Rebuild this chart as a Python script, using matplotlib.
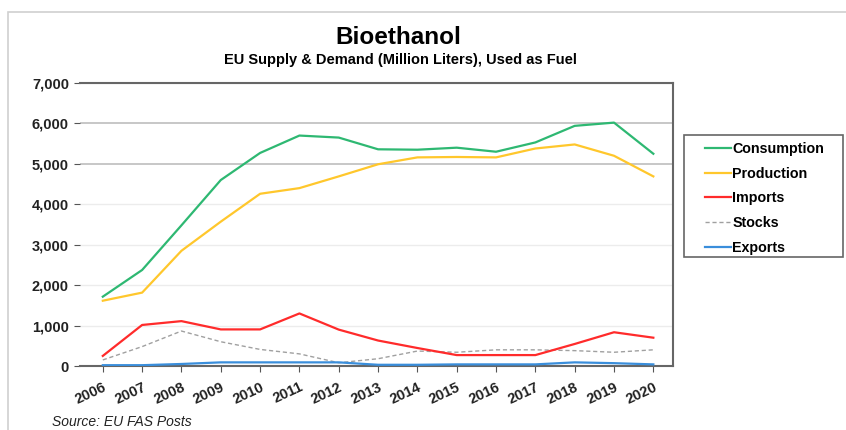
import matplotlib
matplotlib.use("Agg")
import matplotlib.pyplot as plt
from matplotlib.patches import Rectangle

plt.rcParams['font.family'] = ['Liberation Sans', 'DejaVu Sans']

years = ["2006", "2007", "2008", "2009", "2010", "2011", "2012", "2013",
         "2014", "2015", "2016", "2017", "2018", "2019", "2020"]
consumption = [1715, 2375, 3480, 4600, 5270, 5700, 5650, 5360, 5350, 5400, 5300, 5530, 5940, 6020, 5250]
production = [1615, 1815, 2850, 3570, 4260, 4400, 4690, 4990, 5160, 5170, 5160, 5380, 5480, 5200, 4690]
imports = [250, 1015, 1110, 905, 905, 1300, 900, 630, 445, 270, 270, 270, 545, 835, 700]
stocks = [150, 480, 865, 600, 410, 300, 80, 180, 370, 340, 400, 400, 380, 340, 400]
exports = [20, 20, 50, 90, 90, 90, 90, 30, 30, 40, 40, 40, 90, 70, 40]
yticks = [0, 1000, 2000, 3000, 4000, 5000, 6000, 7000]

W, H = 846, 430
fig = plt.figure(figsize=(W / 100, H / 100), dpi=100)
fig.patches.append(Rectangle((8 / W, -0.1), 1.2, 1 - 12 / H + 0.1, transform=fig.transFigure,
                             fill=False, edgecolor='#d0d0d0', linewidth=1.2))
# legend box
fig.patches.append(Rectangle((684 / W, 1 - 257 / H), (843 - 684) / W, (257 - 135) / H,
                             transform=fig.transFigure, fill=False, edgecolor='#666666', linewidth=1.2))

ax = fig.add_axes([80 / W, 1 - 366 / H, (673 - 80) / W, (366 - 83) / H])
x = list(range(len(years)))
ax.plot(x, consumption, color='#2EB872', lw=1.6, label='Consumption', zorder=5)
ax.plot(x, production, color='#FFC72C', lw=1.6, label='Production', zorder=4)
ax.plot(x, imports, color='#FF2B2B', lw=1.6, label='Imports', zorder=4)
ax.plot(x, stocks, color='#A0A0A0', lw=1.0, ls=(0, (3, 2)), label='Stocks', zorder=3)
ax.plot(x, exports, color='#3A8EDB', lw=1.6, label='Exports', zorder=3)

ax.set_xlim(-0.58, 14.5)
ax.set_ylim(0, 7000)
ax.set_yticks(yticks)
ax.set_yticklabels([f"{v:,}" for v in yticks], fontsize=10.5, fontweight='bold', color='#222222')
ax.set_xticks(x)
ax.set_xticklabels(years, fontsize=10.5, fontweight='bold', rotation=25, ha='right',
                   rotation_mode='anchor', color='#222222')
ax.tick_params(axis='x', length=4, color='#555555', pad=6)
ax.tick_params(axis='y', length=4, color='#555555', pad=4)

ax.yaxis.grid(True, color='#ececec', lw=1.0)
ax.set_axisbelow(True)
for v, gl in zip(yticks, ax.get_ygridlines()):
    if v in (5000, 6000):
        gl.set_color('#bdbdbd')
        gl.set_linewidth(1.2)

for s in ('top', 'right', 'bottom'):
    ax.spines[s].set_color('#666666')
    ax.spines[s].set_linewidth(1.5)
ax.spines['left'].set_visible(False)

fig.text(398 / W, 1 - 38 / H, 'Bioethanol', ha='center', va='center', fontsize=17.5, fontweight='bold')
fig.text(400 / W, 1 - 60 / H, 'EU Supply & Demand (Million Liters), Used as Fuel', ha='center',
         va='center', fontsize=10.5, fontweight='bold')
fig.text(52 / W, 1 - 422 / H, 'Source: EU FAS Posts', ha='left', va='center', fontsize=10,
         style='italic', color='#222222')

leg = ax.legend(loc='upper left', bbox_to_anchor=(705 / W, 1 - 142 / H), bbox_transform=fig.transFigure,
                frameon=False, handlelength=1.85, handletextpad=0.05,
                labelspacing=0.75, borderpad=0, borderaxespad=0,
                prop={'weight': 'bold', 'size': 10.3})

fig.savefig('out.png', dpi=100)
